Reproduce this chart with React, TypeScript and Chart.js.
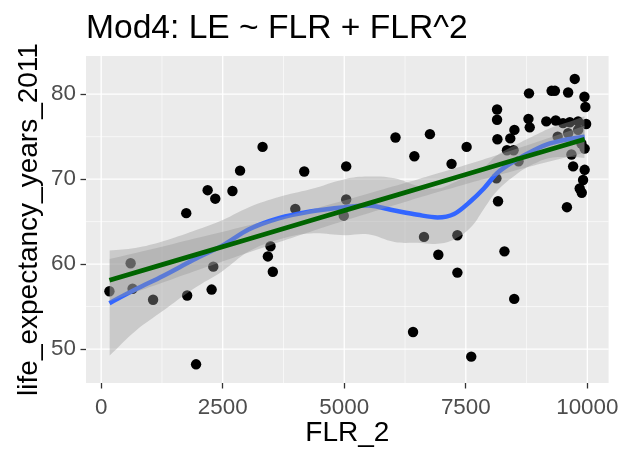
import React, { useEffect, useRef } from "react";
import { Chart, registerables } from "chart.js";

Chart.register(...registerables);

const titleText = "Mod4: LE ~ FLR + FLR^2";
const xTitle = "FLR_2";
const yTitle = "life_expectancy_years_2011";
const xTicks = [0, 2500, 5000, 7500, 10000];
const yTicks = [50, 60, 70, 80];
const xMinor = [1250, 3750, 6250, 8750];
const yMinor = [55, 65, 75];

const flrValues = [
  170, 606, 646, 1068, 1750, 1769, 1952, 2190, 2272, 2306, 2347, 2700, 2857, 3320, 3429, 3483, 3531,
  3993, 4177, 4990, 5040, 5040, 6054, 6415, 6442, 6640, 6762, 6935, 7207, 7327, 7327, 7517, 7612,
  8143, 8143, 8150, 8130, 8163, 8295, 8347, 8415, 8496, 8500, 8483, 8585, 8800, 8789, 8815, 9156,
  9265, 9333, 9350, 9390, 9500, 9580, 9605, 9605, 9640, 9673, 9708, 9741, 9810, 9810, 9843, 9885,
  9878, 9912, 9945, 9945, 9940, 9960, 9975,
];
const leValues = [
  56.8, 60.1, 57.1, 55.8, 66.0, 56.3, 48.2, 68.7, 57.0, 59.7, 67.7, 68.6, 71.0, 73.8, 60.9, 62.1, 59.1,
  66.5, 70.9, 65.7, 67.6, 71.5, 74.9, 52.0, 72.7, 63.2, 75.3, 61.1, 71.8, 63.4, 59.0, 73.8, 49.1,
  78.2, 77.0, 74.7, 70.1, 67.4, 61.5, 73.4, 74.8, 55.9, 75.8, 73.4, 72.1, 80.1, 77.1, 76.1, 76.8,
  80.4, 80.4, 76.9, 75.0, 76.6, 66.7, 80.2, 75.4, 76.7, 72.9, 71.5, 81.8, 76.8, 75.8, 68.9, 68.4,
  74.2, 69.9, 71.1, 73.6, 79.7, 78.5, 76.5,
];

const loessX = [170, 700, 1272, 1900, 2500, 3041, 3653, 4300, 5014, 5490, 6034, 6510, 6918, 7259, 7599, 7871, 8143, 8551, 8900, 9231, 9600, 9945];
const loessY = [55.4, 57.0, 58.6, 60.5, 62.2, 64.1, 65.4, 66.2, 66.7, 66.9, 66.3, 65.8, 65.5, 65.9, 67.4, 68.9, 70.7, 72.3, 73.4, 74.2, 74.7, 75.0];
const loessHi = [61.6, 61.9, 62.7, 63.9, 65.2, 66.7, 67.9, 68.8, 70.0, 70.3, 70.1, 69.2, 68.9, 69.6, 70.7, 71.4, 72.8, 74.1, 75.1, 76.0, 76.7, 77.4];
const loessLo = [49.2, 52.1, 54.5, 57.1, 59.2, 61.5, 62.9, 63.6, 63.4, 63.5, 62.6, 62.5, 62.4, 62.9, 64.3, 66.5, 68.6, 70.6, 71.8, 72.5, 72.6, 72.5];

const linX = [170, 1500, 3000, 4500, 5500, 7000, 8500, 9945];
const linY = [58.1, 60.35, 62.9, 65.45, 67.15, 69.7, 72.25, 74.7];
const linHi = [60.6, 62.4, 64.5, 66.7, 68.3, 70.8, 73.5, 76.3];
const linLo = [55.6, 58.3, 61.3, 64.2, 66.0, 68.6, 71.0, 73.1];

const FONT = "'Liberation Sans', Arial, Helvetica, sans-serif";

const pts = (xs: number[], ys: number[]) => xs.map((x, i) => ({ x, y: ys[i] }));

const decorPlugin = {
  id: "decor",
  beforeDraw(chart: any) {
    const { ctx, chartArea: a, scales } = chart;
    const sx = scales.x;
    const sy = scales.y;
    ctx.save();
    ctx.fillStyle = "#EBEBEB";
    ctx.fillRect(a.left, a.top, a.right - a.left, a.bottom - a.top);
    ctx.strokeStyle = "#FFFFFF";
    const vline = (v: number, w: number) => {
      const px = sx.getPixelForValue(v);
      if (px < a.left || px > a.right) return;
      ctx.lineWidth = w;
      ctx.beginPath();
      ctx.moveTo(px, a.top);
      ctx.lineTo(px, a.bottom);
      ctx.stroke();
    };
    const hline = (v: number, w: number) => {
      const py = sy.getPixelForValue(v);
      if (py < a.top || py > a.bottom) return;
      ctx.lineWidth = w;
      ctx.beginPath();
      ctx.moveTo(a.left, py);
      ctx.lineTo(a.right, py);
      ctx.stroke();
    };
    xMinor.forEach((v) => vline(v, 0.6));
    yMinor.forEach((v) => hline(v, 0.6));
    xTicks.forEach((v) => vline(v, 1.3));
    yTicks.forEach((v) => hline(v, 1.3));
    ctx.restore();
  },
  afterDraw(chart: any) {
    const { ctx, chartArea: a } = chart;
    ctx.save();
    ctx.fillStyle = "#000000";
    ctx.textBaseline = "alphabetic";
    ctx.textAlign = "left";
    ctx.font = `33.6px ${FONT}`;
    ctx.fillText(titleText, 86, 38);
    ctx.textAlign = "center";
    ctx.font = `28px ${FONT}`;
    ctx.fillText(xTitle, (a.left + a.right) / 2, 441);
    ctx.translate(37, (a.top + a.bottom) / 2);
    ctx.rotate(-Math.PI / 2);
    ctx.fillText(yTitle, 0, 0);
    ctx.restore();
  },
};

export default function App() {
  const ref = useRef<HTMLCanvasElement | null>(null);
  useEffect(() => {
    document.body.style.margin = "0";
    const canvas = ref.current;
    if (!canvas) return;
    const ribbon = "rgba(153,153,153,0.4)";
    const chart = new Chart(canvas, {
      type: "scatter",
      data: {
        datasets: [
          {
            type: "scatter",
            data: pts(flrValues, leValues),
            backgroundColor: "#000000",
            borderWidth: 0,
            pointRadius: 5.2,
            order: 5,
          } as any,
          {
            type: "line",
            data: pts(loessX, loessHi),
            borderWidth: 0,
            borderColor: "rgba(0,0,0,0)",
            backgroundColor: ribbon,
            pointRadius: 0,
            tension: 0.4,
            fill: "+1",
            order: 4,
          },
          {
            type: "line",
            data: pts(loessX, loessLo),
            borderWidth: 0,
            borderColor: "rgba(0,0,0,0)",
            pointRadius: 0,
            tension: 0.4,
            fill: false,
            order: 4,
          },
          {
            type: "line",
            data: pts(loessX, loessY),
            borderColor: "#3366FF",
            borderWidth: 4.5,
            pointRadius: 0,
            tension: 0.4,
            cubicInterpolationMode: "monotone",
            fill: false,
            order: 3,
          },
          {
            type: "line",
            data: pts(linX, linHi),
            borderWidth: 0,
            borderColor: "rgba(0,0,0,0)",
            backgroundColor: ribbon,
            pointRadius: 0,
            tension: 0.4,
            fill: "+1",
            order: 2,
          },
          {
            type: "line",
            data: pts(linX, linLo),
            borderWidth: 0,
            borderColor: "rgba(0,0,0,0)",
            pointRadius: 0,
            tension: 0.4,
            fill: false,
            order: 2,
          },
          {
            type: "line",
            data: pts(linX, linY),
            borderColor: "#006400",
            borderWidth: 4.8,
            pointRadius: 0,
            fill: false,
            order: 1,
          },
        ],
      },
      options: {
        animation: false,
        responsive: false,
        devicePixelRatio: 1,
        layout: { padding: { left: 0, top: 56, right: 13, bottom: 0 } },
        plugins: {
          legend: { display: false },
          tooltip: { enabled: false },
          title: { display: false },
        },
        scales: {
          x: {
            type: "linear",
            min: -312,
            max: 10437,
            afterBuildTicks: (s: any) => {
              s.ticks = xTicks.map((v) => ({ value: v }));
            },
            afterFit: (s: any) => {
              s.height = 69;
            },
            grid: {
              drawOnChartArea: false,
              drawTicks: true,
              tickLength: 5.5,
              tickColor: "#333333",
              tickWidth: 1.3,
            },
            border: { display: false },
            ticks: {
              color: "#4D4D4D",
              padding: 6,
              maxRotation: 0,
              autoSkip: false,
              font: { family: FONT, size: 22.4 },
              callback: (v: any) => String(v),
            },
          },
          y: {
            type: "linear",
            min: 46.0,
            max: 84.5,
            afterBuildTicks: (s: any) => {
              s.ticks = yTicks.map((v) => ({ value: v }));
            },
            afterFit: (s: any) => {
              s.width = 86;
            },
            grid: {
              drawOnChartArea: false,
              drawTicks: true,
              tickLength: 5.5,
              tickColor: "#333333",
              tickWidth: 1.3,
            },
            border: { display: false },
            ticks: {
              color: "#4D4D4D",
              padding: 4.5,
              autoSkip: false,
              font: { family: FONT, size: 22.4 },
              callback: (v: any) => String(v),
            },
          },
        },
      },
      plugins: [decorPlugin],
    } as any);
    return () => chart.destroy();
  }, []);
  return <canvas ref={ref} width={625} height={452} style={{ display: "block" }} />;
}
